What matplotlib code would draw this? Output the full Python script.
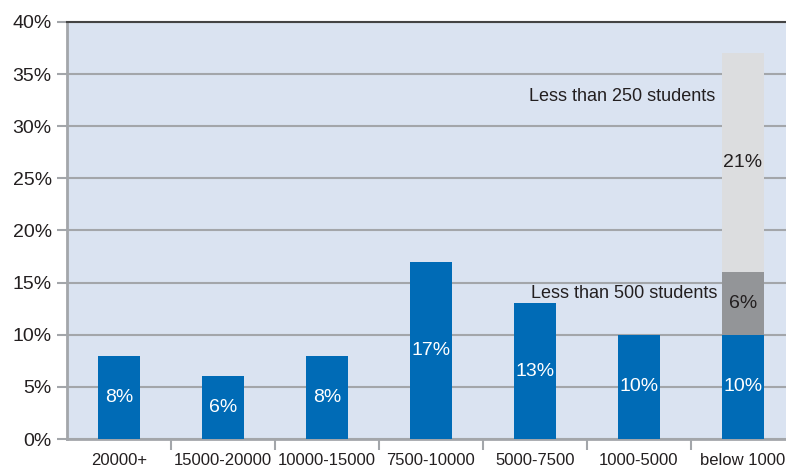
import numpy as np
import matplotlib.pyplot as plt

# enrolment size bands and share of institutions (%)
bands = ["20000+", "15000-20000", "10000-15000", "7500-10000",
         "5000-7500", "1000-5000", "below 1000"]
shares = [8, 6, 8, 17, 13, 10, 10]
# split of the "below 1000" band
under500 = 6
under250 = 21

plt.rcParams['font.family'] = ['Liberation Sans', 'DejaVu Sans']

blue = '#006bb6'
dgray = '#939598'
lgray = '#dcdddf'
grid = '#a3a6aa'
txt = '#231f20'

fig = plt.figure(figsize=(7.86, 4.73), dpi=100)
ax = fig.add_axes([67/786, 34/473, 728/786, 417/473])
ax.set_facecolor('#dae3f1')

x = np.arange(len(bands))
w = 0.4
ax.bar(x, shares, width=w, color=blue, zorder=3)
last = x[-1]
ax.bar(last, under500, width=w, bottom=shares[-1], color=dgray, zorder=3)
ax.bar(last, under250, width=w, bottom=shares[-1] + under500, color=lgray, zorder=3)

for xi, v in zip(x, shares):
    ax.text(xi, v / 2, f"{v}%", ha='center', va='center', color='white',
            fontsize=14, zorder=4)
ax.text(last, shares[-1] + under500 / 2, f"{under500}%", ha='center', va='center',
        color=txt, fontsize=14, zorder=4)
ax.text(last, shares[-1] + under500 + under250 / 2, f"{under250}%", ha='center',
        va='center', color=txt, fontsize=14, zorder=4)
ax.text(last - 0.27, 32.9, "Less than 250 students",
        ha='right', va='center', color=txt, fontsize=13, zorder=4)
ax.text(last - 0.25, 14.0, "Less than 500 students",
        ha='right', va='center', color=txt, fontsize=13, zorder=4)

ax.set_xlim(-0.5, len(bands) - 0.5)
ax.set_ylim(0, 40)
ax.set_yticks(np.arange(0, 41, 5))
ax.set_yticklabels([f"{t}%" for t in range(0, 41, 5)], fontsize=14, color=txt)
ax.yaxis.grid(True, color=grid, lw=1.5, zorder=1)
ax.tick_params(axis='y', length=7, width=1.5, color=grid, pad=4)

ax.set_xticks(x)
ax.set_xticklabels(bands, fontsize=12, color=txt)
ax.tick_params(axis='x', which='major', length=0, pad=10)
ax.set_xticks(np.arange(0.5, len(bands) - 1, 1), minor=True)
ax.tick_params(axis='x', which='minor', length=8, width=1.5, color=grid)

for s in ['left', 'bottom']:
    ax.spines[s].set_color(grid)
    ax.spines[s].set_linewidth(2)
ax.spines['top'].set_color('#444444')
ax.spines['top'].set_linewidth(1.5)
ax.spines['right'].set_visible(False)

fig.savefig('out.png', dpi=100)
